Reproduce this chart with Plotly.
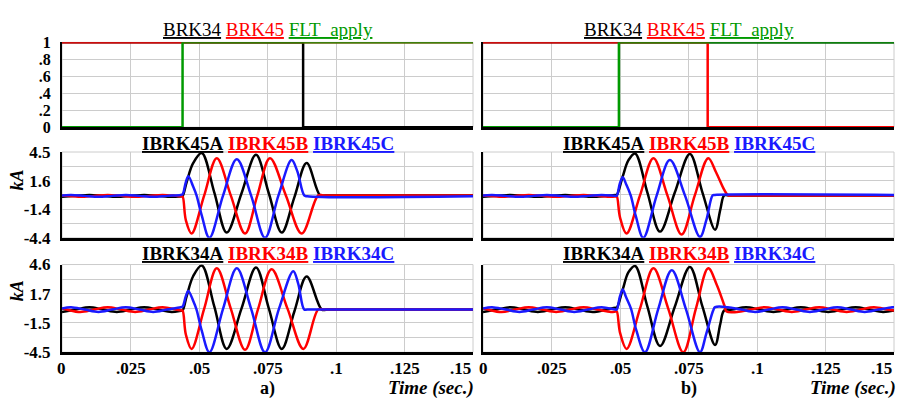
import plotly.graph_objects as go

# ---------------------------------------------------------------- data
# time axis (s)
time_ticks = [0, 0.025, 0.05, 0.075, 0.1, 0.125, 0.15]
time_tick_text = ["0", ".025", ".05", ".075", ".1", ".125", ".15"]

# breaker / fault logic signals, case a)
a_brk34_t = [0, 0.088, 0.15]
a_brk34_v = [1, 0, 0]
a_brk45_t = [0, 0.15]
a_brk45_v = [1, 1]
a_flt_t = [0, 0.044, 0.15]
a_flt_v = [0, 1, 1]

# breaker / fault logic signals, case b)
b_brk34_t = [0, 0.15]
b_brk34_v = [1, 1]
b_brk45_t = [0, 0.082, 0.15]
b_brk45_v = [1, 0, 0]
b_flt_t = [0, 0.0496, 0.15]
b_flt_v = [0, 1, 1]

logic_ticks = [0, 0.2, 0.4, 0.6, 0.8, 1]
logic_tick_text = ["0", ".2", ".4", ".6", ".8", "1"]

# current axes (kA)
i45_range = [-4.45, 4.55]
i45_tick_text = ["-4.4", "", "-1.4", "", "1.6", "", "4.5"]
i34_range = [-4.55, 4.6]
i34_tick_text = ["-4.5", "", "-1.5", "", "1.7", "", "4.6"]

# case a) IBRK45 phase currents (kA)
a45_A_t = [0, .005, .01, .015, .02, .025, .03, .035, .04, .0435, .044, .0455, .0479, .051, .0556,
           .0601, .0655, .0708, .0755, .0802, .0848, .0893, .0942, .0962, .15]
a45_A_i = [-.15, -.05, .05, -.05, -.15, -.05, .05, -.05, -.15, -.09, -.08, 1.4, 3.4, 4.45, .3,
           -3.9, .2, 4.25, .2, -3.9, -.2, 3.4, 0, 0, 0]
a45_B_t = [0, .0017, .0067, .0117, .0167, .0217, .0267, .0317, .0367, .0417, .0435, .044, .0452,
           .0473, .0519, .0565, .0616, .0668, .0713, .0759, .0817, .0875, .0935, .0955, .15]
a45_B_i = [0, -.05, -.15, -.05, .05, -.05, -.15, -.05, .05, -.05, -.1, -.1, -2.6,
           -4.0, 0, 3.9, 0, -4.0, 0, 3.9, 0, -4.0, 0, 0, 0]
a45_C_t = [0, .0033, .0083, .0133, .0183, .0233, .0283, .0333, .0383, .0433, .044, .0452, .0461,
           .0479, .0491, .051, .0538, .0588, .0638, .069, .0741, .079, .0838, .0858, .0884, .0895, .15]
a45_C_i = [0, .05, -.05, -.15, -.05, .05, -.05, -.15, -.05, .05, .1, 1.4, 2.0,
           .9, 0, -2.1, -4.45, 0, 3.8, 0, -4.45, 0, 3.7, 2.6, 0, -.1, -.1]

# case a) IBRK34 phase currents (kA)
a34_A_t = [0, .005, .01, .015, .02, .025, .03, .035, .04, .0435, .044, .0455, .0479, .051, .0556,
           .0601, .0655, .0708, .0755, .0802, .0848, .0893, .0948, .0968, .15]
a34_A_i = [-.35, -.1, .15, -.1, -.35, -.1, .15, -.1, -.35, -.22, -.2, 1.3, 3.4, 4.5, .2,
           -4.2, 0, 4.3, 0, -4.2, -.3, 3.35, -.1, -.1, -.1]
a34_B_t = [0, .0017, .0067, .0117, .0167, .0217, .0267, .0317, .0367, .0417, .0435, .044, .0452,
           .0473, .0519, .0565, .0616, .0668, .0716, .0765, .0823, .0881, .0935, .0955, .15]
a34_B_i = [.02, -.1, -.35, -.1, .15, -.1, -.35, -.1, .15, -.1, -.2, -.2, -2.7,
           -4.2, 0, 4.2, 0, -4.3, 0, 4.1, 0, -4.2, -.1, -.1, -.1]
a34_C_t = [0, .0033, .0083, .0133, .0183, .0233, .0283, .0333, .0383, .0433, .044, .0452, .0461,
           .0479, .0491, .051, .0538, .0588, .0638, .069, .0741, .0792, .0844, .0862, .0884, .0895, .15]
a34_C_i = [.02, .15, -.1, -.35, -.1, .15, -.1, -.35, -.1, .15, .2, 1.3, 1.85,
           .8, -.1, -2.3, -4.55, 0, 4.2, 0, -4.55, 0, 3.9, 2.6, -.1, -.1, -.1]

# case b) IBRK45 phase currents (kA)
b45_A_t = [0, .005, .01, .015, .02, .025, .03, .035, .04, .045, .0483, .0488, .051, .0531, .0555,
           .06, .0646, .07, .0755, .0801, .0847, .0866, .088, .0895, .15]
b45_A_i = [-.15, -.05, .05, -.05, -.15, -.05, .05, -.05, -.15, -.05, .03, .03, 2.0, 3.7, 4.4,
           .3, -3.8, .3, 4.35, .3, -3.6, -1.5, 0, 0, 0]
b45_B_t = [0, .0017, .0067, .0117, .0167, .0217, .0267, .0317, .0367, .0417, .0467, .0483, .0488,
           .05, .0524, .0573, .0622, .0673, .0725, .0773, .0822, .0851, .088, .0895, .091, .15]
b45_B_i = [0, -.05, -.15, -.05, .05, -.05, -.15, -.05, .05, -.05, -.15, -.12, -.1,
           -2.3, -4.0, 0, 3.9, 0, -4.1, 0, 3.9, 2.4, .6, 0, 0, 0]
b45_C_t = [0, .0033, .0083, .0133, .0183, .0233, .0283, .0333, .0383, .0433, .0483, .0488, .05,
           .051, .0522, .0539, .0558, .0585, .0634, .0682, .0737, .0792, .0815, .0838, .0846, .15]
b45_C_i = [0, .05, -.05, -.15, -.05, .05, -.05, -.15, -.05, .05, -.05, -.05, 1.3,
           1.9, 1.2, 0, -2.2, -4.45, 0, 3.7, 0, -4.35, -2.6, 0, .05, .05]

# case b) IBRK34 phase currents (kA)
b34_A_t = [0, .005, .01, .015, .02, .025, .03, .035, .04, .045, .0483, .0488, .051, .0531, .0555,
           .06, .0646, .07, .0755, .0801, .0847, .0866, .088, .091, .096, .101, .106, .111, .116,
           .121, .126, .131, .136, .141, .146, .15]
b34_A_i = [-.35, -.1, .15, -.1, -.35, -.1, .15, -.1, -.35, -.1, .08, .08, 2.0, 3.8, 4.45,
           .2, -3.9, .2, 4.35, .2, -3.8, -1.6, -.2, -.1, .15, -.1, -.35, -.1, .15,
           -.1, -.35, -.1, .15, -.1, -.35, -.2]
b34_B_t = [0, .0017, .0067, .0117, .0167, .0217, .0267, .0317, .0367, .0417, .0467, .0483, .0488,
           .05, .0524, .0573, .0622, .0676, .0731, .0777, .0822, .0853, .088, .0889, .0927, .0977,
           .1027, .1077, .1127, .1177, .1227, .1277, .1327, .1377, .1427, .1477, .15]
b34_B_i = [.02, -.1, -.35, -.1, .15, -.1, -.35, -.1, .15, -.1, -.35, -.3, -.28,
           -2.5, -4.2, 0, 4.2, 0, -4.55, 0, 4.2, 2.5, .4, -.3, -.35, -.1,
           .15, -.1, -.35, -.1, .15, -.1, -.35, -.1, .15, -.1, -.2]
b34_C_t = [0, .0033, .0083, .0133, .0183, .0233, .0283, .0333, .0383, .0433, .0483, .0488, .05,
           .051, .0522, .054, .056, .0591, .064, .0689, .074, .0792, .0815, .084, .0847, .0893,
           .0943, .0993, .1043, .1093, .1143, .1193, .1243, .1293, .1343, .1393, .1443, .1493, .15]
b34_C_i = [.02, .15, -.1, -.35, -.1, .15, -.1, -.35, -.1, .15, -.1, -.1, 1.3,
           2.0, 1.2, 0, -2.3, -4.55, 0, 4.0, 0, -4.55, -2.6, -.2, .15, .15,
           -.1, -.35, -.1, .15, -.1, -.35, -.1, .15, -.1, -.35, -.1, .15, .15]

# ---------------------------------------------------------------- styling
W, H = 904, 408
BLACK, RED, BLUE, GREEN = "#000000", "#ff0000", "#1a1aff", "#009a00"
GRID = "#cccccc"
SERIF = "Liberation Serif, 'Times New Roman', Times, 'DejaVu Serif', serif"

X_LEFT = [62 / W, 473 / W]
X_RIGHT = [483 / W, 894 / W]
Y_TOP = [1 - 124 / H, 1 - 35 / H]
Y_MID = [1 - 240 / H, 1 - 150 / H]
Y_BOT = [1 - 360 / H, 1 - 268 / H]

# panel id -> (x domain, y domain)
panels = {
    1: (X_LEFT, Y_TOP), 2: (X_LEFT, Y_MID), 3: (X_LEFT, Y_BOT),
    4: (X_RIGHT, Y_TOP), 5: (X_RIGHT, Y_MID), 6: (X_RIGHT, Y_BOT),
}


def ax_id(n):
    return "" if n == 1 else str(n)


fig = go.Figure()


def add_line(n, t, v, color, width=2.5, shape="spline"):
    line = dict(color=color, width=width, shape=shape)
    if shape == "spline":
        line["smoothing"] = 1.0
    fig.add_trace(go.Scatter(
        x=t, y=v, mode="lines", line=line,
        xaxis="x" + ax_id(n), yaxis="y" + ax_id(n),
        showlegend=False, hoverinfo="skip"))


# logic panels (drawn black, red, green so the fault flag sits on top)
add_line(1, a_brk34_t, a_brk34_v, BLACK, 2.5, "hv")
add_line(1, a_brk45_t, a_brk45_v, RED, 2.5, "hv")
add_line(1, a_flt_t, a_flt_v, GREEN, 2.5, "hv")
add_line(4, b_brk34_t, b_brk34_v, BLACK, 2.5, "hv")
add_line(4, b_brk45_t, b_brk45_v, RED, 2.5, "hv")
add_line(4, b_flt_t, b_flt_v, GREEN, 2.5, "hv")

# current panels
for n, series in [
    (2, [(a45_A_t, a45_A_i), (a45_B_t, a45_B_i), (a45_C_t, a45_C_i)]),
    (3, [(a34_A_t, a34_A_i), (a34_B_t, a34_B_i), (a34_C_t, a34_C_i)]),
    (5, [(b45_A_t, b45_A_i), (b45_B_t, b45_B_i), (b45_C_t, b45_C_i)]),
    (6, [(b34_A_t, b34_A_i), (b34_B_t, b34_B_i), (b34_C_t, b34_C_i)]),
]:
    for (t, v), c in zip(series, [BLACK, RED, BLUE]):
        add_line(n, t, v, c)

tick_font = dict(family=SERIF, size=17, color="black", weight="bold")
logic_font = dict(family=SERIF, size=16, color="black", weight="bold")
layout = dict(
    width=W, height=H, autosize=False,
    margin=dict(l=0, r=0, t=0, b=0),
    paper_bgcolor="white", plot_bgcolor="white",
    showlegend=False,
)

shapes = []
for n, (xd, yd) in panels.items():
    s = ax_id(n)
    layout["xaxis" + s] = dict(
        domain=xd, anchor="y" + s, range=[0, 0.15],
        tickvals=time_ticks, showticklabels=False, ticks="",
        showgrid=True, gridcolor=GRID, gridwidth=1, zeroline=False,
        showline=True, linecolor=BLACK, linewidth=2.5, fixedrange=True)
    if n in (1, 4):
        rng, tv, tt, tf = [0, 1], logic_ticks, logic_tick_text, logic_font
    else:
        rng, tt = (i45_range, i45_tick_text) if n in (2, 5) else (i34_range, i34_tick_text)
        step = (rng[1] - rng[0]) / (len(tt) - 1)
        tv = [rng[0] + k * step for k in range(len(tt))]
        tf = tick_font
    layout["yaxis" + s] = dict(
        domain=yd, anchor="x" + s, range=rng,
        tickvals=tv, ticktext=tt, showticklabels=n <= 3,
        tickfont=tf, ticks="", ticklabelstandoff=6,
        showgrid=True, gridcolor=GRID, gridwidth=1, zeroline=False,
        showline=True, linecolor=BLACK, linewidth=2, fixedrange=True)
    shapes.append(dict(type="rect", xref="x" + s + " domain", yref="y" + s + " domain",
                       x0=0, x1=1, y0=0, y1=1, line=dict(color=GRID, width=1),
                       layer="below"))
layout["shapes"] = shapes

annotations = []


def title(text_parts, x_px, y_px, bold):
    segs = []
    for txt, col in text_parts:
        t = "<b>%s</b>" % txt if bold else txt
        segs.append("<span style='color:%s'><u>%s</u></span>" % (col, t))
    annotations.append(dict(
        text=" ".join(segs), x=x_px / W, y=1 - y_px / H, xref="paper", yref="paper",
        xanchor="center", yanchor="middle", showarrow=False,
        font=dict(family=SERIF, size=19, color=BLACK)))


for cx in (sum(X_LEFT) / 2 * W, sum(X_RIGHT) / 2 * W):
    title([("BRK34", BLACK), ("BRK45", RED), ("FLT_apply", GREEN)], cx, 21, False)
    title([("IBRK45A", BLACK), ("IBRK45B", RED), ("IBRK45C", BLUE)], cx, 141, True)
    title([("IBRK34A", BLACK), ("IBRK34B", RED), ("IBRK34C", BLUE)], cx, 256, True)

# time tick labels under the bottom panels
for n in (3, 6):
    for k, (tv, tt) in enumerate(zip(time_ticks, time_tick_text)):
        last = k == len(time_ticks) - 1
        annotations.append(dict(
            text="<b>%s</b>" % tt, x=tv, xref="x" + ax_id(n),
            y=1 - 377 / H, yref="paper", xanchor="right" if last else "center",
            yanchor="middle", showarrow=False,
            font=dict(family=SERIF, size=17, color=BLACK)))

# unit labels
for y_px in (180, 296):
    annotations.append(dict(
        text="<b><i>kA</i></b>", x=17 / W, y=1 - y_px / H, xref="paper", yref="paper",
        textangle=-90, xanchor="center", yanchor="middle", showarrow=False,
        font=dict(family=SERIF, size=18, color=BLACK)))

# case labels and time-axis captions
for cx, lab, right_px in ((sum(X_LEFT) / 2 * W, "a)", 476), (sum(X_RIGHT) / 2 * W, "b)", 898)):
    annotations.append(dict(
        text="<b>%s</b>" % lab, x=cx / W, y=1 - 398 / H, xref="paper", yref="paper",
        xanchor="center", yanchor="middle", showarrow=False,
        font=dict(family=SERIF, size=18, color=BLACK)))
    annotations.append(dict(
        text="<b><i>Time (sec.)</i></b>", x=right_px / W, y=1 - 398 / H,
        xref="paper", yref="paper", xanchor="right", yanchor="middle",
        showarrow=False, font=dict(family=SERIF, size=19, color=BLACK)))

layout["annotations"] = annotations
fig.update_layout(**layout)
fig.write_html("out.html")
